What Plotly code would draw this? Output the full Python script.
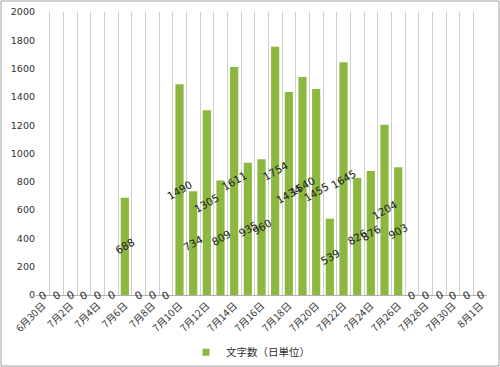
import plotly.graph_objects as go

dates = ["6月30日"] + [f"7月{d}日" for d in range(1, 32)] + ["8月1日"]
values = [0, 0, 0, 0, 0, 0, 688, 0, 0, 0, 1490, 734, 1305, 809, 1611, 935, 960,
          1754, 1434, 1540, 1455, 539, 1645, 826, 876, 1204, 903, 0, 0, 0, 0, 0, 0]
series_name = "文字数（日単位）"
yticks = list(range(0, 2001, 200))

ticktext = [d if i % 2 == 0 else "" for i, d in enumerate(dates)]
GREEN = "#8cb83f"

fig = go.Figure()
fig.add_trace(go.Bar(
    x=dates, y=values, name=series_name,
    marker=dict(color=GREEN, line=dict(width=0)),
    showlegend=False,
))
fig.add_trace(go.Scatter(
    x=[None], y=[None], mode="markers", name=series_name,
    marker=dict(symbol="square", size=7, color=GREEN),
    showlegend=True,
))

annotations = []
for d, v in zip(dates, values):
    annotations.append(dict(
        x=d, y=v / 2, xref="x", yref="y", text=str(v), showarrow=False,
        textangle=-30, font=dict(size=10.5, color="#202020", family="DejaVu Sans"),
    ))

L, R, T, B = 36, 13, 12, 72
pw, ph = 500 - L - R, 367 - T - B
fig.add_shape(type="rect", xref="paper", yref="paper",
              x0=-(L - 1) / pw, x1=1 + (R - 1) / pw,
              y0=-(B - 1) / ph, y1=1 + (T - 1) / ph,
              line=dict(color="#a0a0a0", width=1), layer="below")

fig.update_layout(
    width=500, height=367,
    margin=dict(l=L, r=R, t=T, b=B, autoexpand=False),
    paper_bgcolor="white", plot_bgcolor="white",
    bargap=0.4,
    annotations=annotations,
    font=dict(family="DejaVu Sans", color="#404040"),
    legend=dict(orientation="h", x=(186 - L) / pw, xanchor="left",
                yref="container", y=0.04, yanchor="middle",
                bgcolor="rgba(0,0,0,0)",
                font=dict(size=10.5, color="#303030", family="Noto Sans CJK JP"),
                itemwidth=30),
    xaxis=dict(type="category", tickson="boundaries", tickvals=dates, ticktext=ticktext,
               tickangle=-45, showgrid=True, gridcolor="#d0d0d0", gridwidth=1,
               showline=True, linecolor="#b0b0b0", ticks="", automargin=False,
               tickfont=dict(size=10, color="#303030", family="Noto Sans CJK JP"),
               range=[-0.5, len(dates) - 0.5]),
    yaxis=dict(range=[0, 2000], tickvals=yticks, showgrid=False, zeroline=False,
               showline=False, tickfont=dict(size=9.5, color="#303030"), ticks="",
               automargin=False),
)

fig.write_html("out.html", config={"displayModeBar": False},
               post_script="document.body.style.margin='0';")
